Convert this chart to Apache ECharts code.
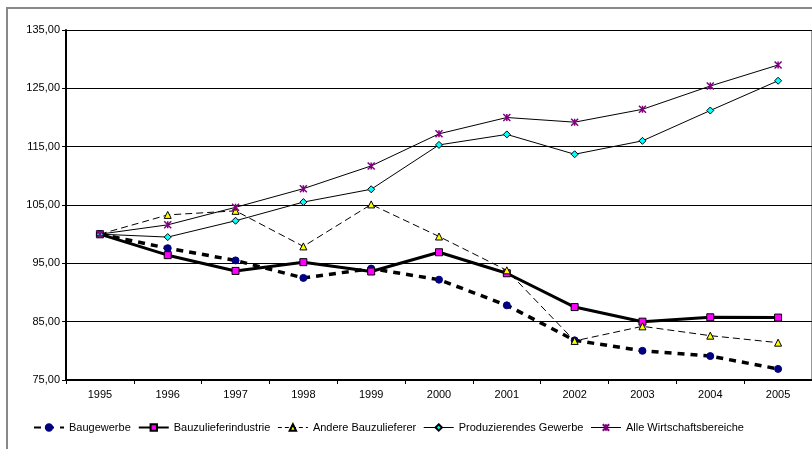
<!DOCTYPE html>
<html><head><meta charset="utf-8">
<script src="https://cdn.jsdelivr.net/npm/echarts@6/dist/echarts.min.js"></script>
<style>html,body{margin:0;padding:0;background:#fff}#c{width:812px;height:449px}</style>
</head><body><div id="c"></div>
<script>
const years = ['1995','1996','1997','1998','1999','2000','2001','2002','2003','2004','2005'];
const baugewerbe = [100, 97.6, 95.5, 92.5, 94.1, 92.2, 87.8, 81.8, 80.0, 79.1, 76.9];
const bauzulieferindustrie = [100, 96.4, 93.7, 95.2, 93.6, 96.9, 93.3, 87.5, 85.0, 85.75, 85.7];
const andereBauzulieferer = [100, 103.3, 104.0, 97.9, 105.1, 99.6, 93.8, 81.7, 84.2, 82.6, 81.4];
const produzierendesGewerbe = [100, 99.5, 102.3, 105.5, 107.7, 115.3, 117.1, 113.7, 116.0, 121.2, 126.3];
const alleWirtschaftsbereiche = [100, 101.6, 104.6, 107.8, 111.7, 117.2, 120.0, 119.2, 121.4, 125.4, 129.0];

const chart = echarts.init(document.getElementById('c'), null, {renderer:'canvas'});
const font = 'Liberation Sans, Arial, sans-serif';
const asterisk = 'path://M0,0L10,10M10,0L0,10M5,0L5,10';
chart.setOption({
  animation:false,
  backgroundColor:'#fff',
  textStyle:{fontFamily:font},
  graphic:[
    {type:'rect', shape:{x:7,y:8,width:830,height:460}, style:{fill:'none', stroke:'#888', lineWidth:2}, z:-1},
    {type:'line', shape:{x1:811.5,y1:30,x2:811.5,y2:380}, style:{stroke:'#999', lineWidth:1}}
  ],
  grid:{left:66, top:30, right:0, bottom:69, containLabel:false},
  legend:{
    left:28, top:417, itemWidth:30, itemHeight:8, itemGap:7,
    textStyle:{fontSize:11, color:'#000', fontFamily:font},
    data:[
      {name:'Baugewerbe'},
      {name:'Bauzulieferindustrie'},
      {name:'Andere Bauzulieferer', lineStyle:{width:1, type:[4,3]}},
      {name:'Produzierendes Gewerbe', lineStyle:{width:1}},
      {name:'Alle Wirtschaftsbereiche', lineStyle:{width:1}}
    ]
  },
  xAxis:{
    type:'category', data:years, boundaryGap:true,
    axisLine:{lineStyle:{color:'#000', width:2}},
    axisTick:{show:true, length:4, lineStyle:{color:'#000'}},
    axisLabel:{fontSize:11, color:'#000', margin:9, fontFamily:font}
  },
  yAxis:{
    type:'value', min:75, max:135, interval:10,
    axisLine:{show:true, lineStyle:{color:'#000', width:2}},
    axisTick:{show:true, length:4, lineStyle:{color:'#000'}},
    splitLine:{show:true, lineStyle:{color:'#000', width:1}},
    axisLabel:{fontSize:11, color:'#000', margin:6, fontFamily:font,
      formatter:v=>v.toFixed(2).replace('.',',')}
  },
  series:[
    {name:'Baugewerbe', type:'line', data:baugewerbe, symbol:'circle', symbolSize:7,
      lineStyle:{color:'#000', width:3.5, type:[7,6]},
      itemStyle:{color:'#000080', borderColor:'#000080', borderWidth:1}, z:3},
    {name:'Bauzulieferindustrie', type:'line', data:bauzulieferindustrie, symbol:'rect', symbolSize:7,
      lineStyle:{color:'#000', width:3},
      itemStyle:{color:'#FF00FF', borderColor:'#000', borderWidth:1}, z:4},
    {name:'Andere Bauzulieferer', type:'line', data:andereBauzulieferer, symbol:'triangle', symbolSize:7,
      lineStyle:{color:'#000', width:1, type:[7,4]},
      itemStyle:{color:'#FFFF00', borderColor:'#000', borderWidth:1}, z:5},
    {name:'Produzierendes Gewerbe', type:'line', data:produzierendesGewerbe, symbol:'diamond', symbolSize:7,
      lineStyle:{color:'#000', width:1},
      itemStyle:{color:'#00FFFF', borderColor:'#000', borderWidth:1}, z:5},
    {name:'Alle Wirtschaftsbereiche', type:'line', data:alleWirtschaftsbereiche, symbol:asterisk, symbolSize:7,
      lineStyle:{color:'#000', width:1},
      itemStyle:{color:'#800080', borderColor:'#800080', borderWidth:1.5}, z:5}
  ]
});
</script></body></html>
